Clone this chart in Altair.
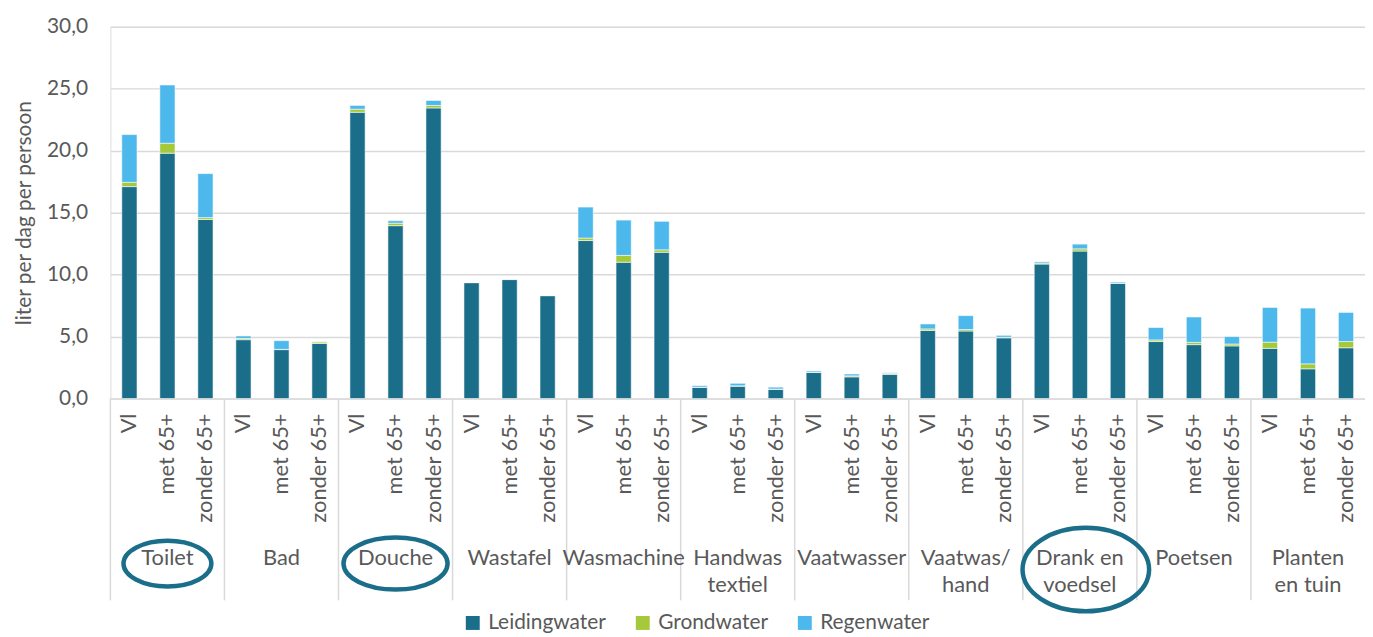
import altair as alt
import pandas as pd

# ---- data ----
groups = ["Toilet", "Bad", "Douche", "Wastafel", "Wasmachine", "Handwas\ntextiel",
          "Vaatwasser", "Vaatwas/\nhand", "Drank en\nvoedsel", "Poetsen", "Planten\nen tuin"]
subgroups = ["Vl", "met 65+", "zonder 65+"]
sources = ["Leidingwater", "Grondwater", "Regenwater"]

leidingwater = [17.1, 19.8, 14.45, 4.75, 3.95, 4.45, 23.1, 13.95, 23.45, 9.35, 9.6, 8.3,
                12.75, 11.0, 11.8, 0.9, 1.0, 0.75, 2.1, 1.75, 1.95, 5.5, 5.45, 4.9,
                10.85, 11.9, 9.3, 4.6, 4.35, 4.25, 4.05, 2.4, 4.1]
grondwater = [0.35, 0.8, 0.15, 0.1, 0.02, 0.12, 0.25, 0.2, 0.2, 0.02, 0.02, 0.02,
              0.2, 0.55, 0.2, 0.02, 0.03, 0.02, 0.03, 0.08, 0.08, 0.12, 0.12, 0.05,
              0.08, 0.18, 0.02, 0.13, 0.18, 0.15, 0.5, 0.4, 0.5]
regenwater = [3.85, 4.7, 3.55, 0.2, 0.7, 0.02, 0.3, 0.2, 0.4, 0.0, 0.02, 0.0,
              2.5, 2.85, 2.3, 0.12, 0.2, 0.15, 0.1, 0.15, 0.05, 0.4, 1.12, 0.15,
              0.1, 0.38, 0.08, 1.0, 2.05, 0.6, 2.8, 4.5, 2.35]
y_ticks = [0, 5, 10, 15, 20, 25, 30]
highlighted = ["Toilet", "Douche", "Drank en\nvoedsel"]

colors = ["#1b6e8a", "#a5c93a", "#4db8ec"]
text_color = "#595959"
grid_color = "#d9d9d9"
FONT = "Lato"

# ---- tables ----
rows = []
for i in range(len(groups) * len(subgroups)):
    for k, (src, vals) in enumerate(zip(sources, [leidingwater, grondwater, regenwater])):
        rows.append(dict(idx=i, group=groups[i // 3], sub=subgroups[i % 3],
                         source=src, ord=k, value=vals[i]))
bars_df = pd.DataFrame(rows)

sub_df = pd.DataFrame([dict(idx=i, sub=subgroups[i % 3]) for i in range(len(groups) * 3)])
grp_df = pd.DataFrame([dict(g=g, group=name) for g, name in enumerate(groups)])

W, H = 1262, 374
xscale = alt.Scale(domain=[0, len(groups) * 3], nice=False, zero=False)

bars = alt.Chart(bars_df).transform_stack(
    stack="value", groupby=["idx"], as_=["y0", "y1"],
    sort=[alt.SortField("ord", order="ascending")]
).transform_calculate(
    x0="datum.idx + 0.3", x1="datum.idx + 0.7"
).mark_bar(stroke="white", strokeWidth=0.8, strokeOpacity=0.7).encode(
    x=alt.X("x0:Q", scale=xscale, axis=None),
    x2="x1:Q",
    y=alt.Y("y0:Q", scale=alt.Scale(domain=[0, 30], nice=False),
            axis=alt.Axis(values=y_ticks,
                          labelExpr="replace(format(datum.value, '.1f'), '.', ',')",
                          grid=True, gridColor=grid_color, gridWidth=1.5,
                          domain=False, ticks=False, labelPadding=23,
                          labelFontSize=21, labelColor=text_color, labelFont=FONT,
                          title="liter per dag per persoon", titleFontSize=21,
                          titleColor=text_color, titleFont=FONT,
                          titleFontWeight="normal", titlePadding=12)),
    y2="y1:Q",
    color=alt.Color("source:N", scale=alt.Scale(domain=sources, range=colors),
                    legend=alt.Legend(title=None, orient="none", direction="horizontal",
                                      legendX=354, legendY=589, symbolType="square",
                                      symbolSize=196, symbolStrokeWidth=0,
                                      symbolOpacity=1,
                                      labelFontSize=21, labelColor=text_color,
                                      labelFont=FONT, labelOffset=5,
                                      columnPadding=26, padding=0)),
    order=alt.Order("ord:Q"),
)

separators = alt.Chart(grp_df).transform_calculate(
    sx="datum.g * 3"
).mark_rule(color=grid_color, strokeWidth=1.5).encode(
    x=alt.X("sx:Q", scale=xscale, axis=None),
    y=alt.value(H),
    y2=alt.value(577),
)

sub_labels = alt.Chart(sub_df).transform_calculate(
    tx="datum.idx + 0.5"
).mark_text(angle=270, align="right", baseline="middle", fontSize=22,
            color=text_color, font=FONT).encode(
    x=alt.X("tx:Q", scale=xscale, axis=None),
    y=alt.value(389),
    text="sub:N",
)

grp_labels = alt.Chart(grp_df).transform_calculate(
    gx="datum.g * 3 + 1.5"
).mark_text(align="center", baseline="alphabetic", lineBreak="\n", lineHeight=28,
            fontSize=22, color=text_color, font=FONT).encode(
    x=alt.X("gx:Q", scale=xscale, axis=None),
    y=alt.value(541),
    text="group:N",
)


def ellipse_path(ry):
    k = 0.5523
    return (f"M-1,0C-1,{-k*ry:.4f} {-k:.4f},{-ry:.4f} 0,{-ry:.4f}"
            f"C{k:.4f},{-ry:.4f} 1,{-k*ry:.4f} 1,0"
            f"C1,{k*ry:.4f} {k:.4f},{ry:.4f} 0,{ry:.4f}"
            f"C{-k:.4f},{ry:.4f} -1,{k*ry:.4f} -1,0Z")


ellipse_style = {
    "Toilet": dict(ry=0.52, size=7815, y=540, dx=0),
    "Douche": dict(ry=0.50, size=10962, y=540, dx=0),
    "Drank en\nvoedsel": dict(ry=0.66, size=16205, y=546, dx=6),
}
ellipses = []
for name in highlighted:
    st = ellipse_style[name]
    ellipses.append(
        alt.Chart(grp_df).transform_filter(
            alt.datum.group == name
        ).transform_calculate(
            ex="datum.g * 3 + 1.5"
        ).mark_point(shape=ellipse_path(st["ry"]), filled=False, opacity=1,
                     stroke="#1b6e8a", strokeWidth=4.5, size=st["size"]).encode(
            x=alt.X("ex:Q", scale=xscale, axis=None),
            xOffset=alt.value(st["dx"]),
            y=alt.value(st["y"]),
        )
    )

chart = alt.layer(bars, separators, sub_labels, grp_labels, *ellipses).properties(
    width=W, height=H,
    autosize=alt.AutoSizeParams(type="none"),
    padding={"left": 103, "top": 17, "right": 0, "bottom": 238},
).configure_view(stroke=None).configure(font=FONT)

chart.save("out.html", embed_options={"renderer": "svg", "actions": False})
